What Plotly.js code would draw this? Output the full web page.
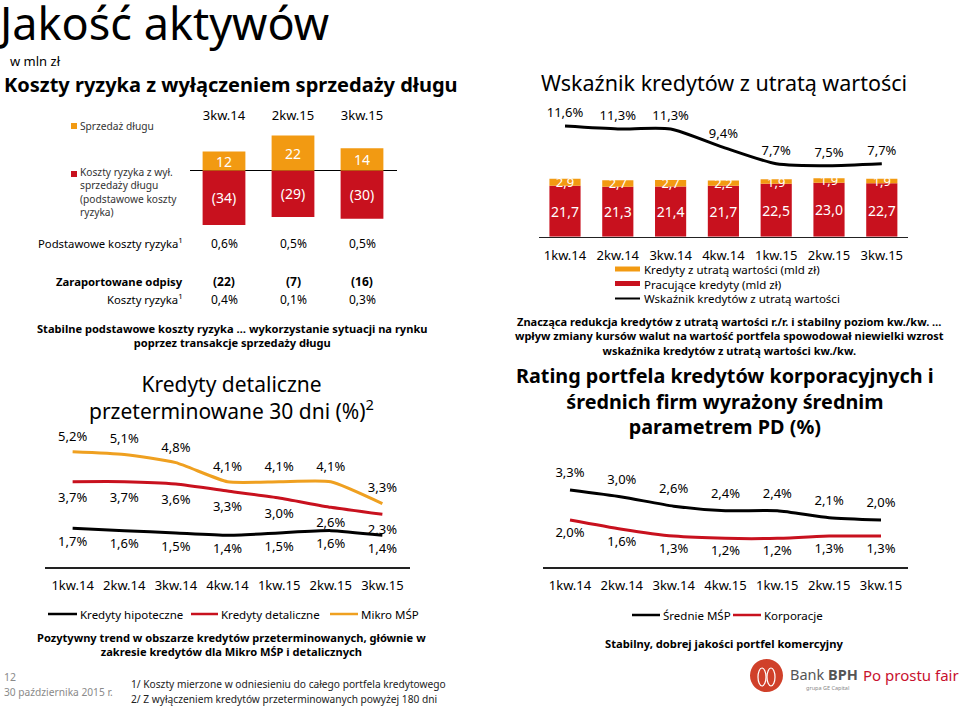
<!DOCTYPE html>
<html><head><meta charset="utf-8">
<script src="https://cdn.plot.ly/plotly-3.0.1.min.js"></script>
<style>html,body{margin:0;padding:0;background:#fff}#chart{width:960px;height:707px}</style>
</head><body><div id="chart"></div>
<script>
// ---------- data ----------
const costQuarters = ['3kw.14', '2kw.15', '3kw.15'];
const debtSale = [12, 22, 14];
const coreRiskCost = [-34, -29, -30];
const coreRiskCostRatio = ['0,6%', '0,5%', '0,5%'];
const reportedWriteOffs = ['(22)', '(7)', '(16)'];
const riskCostRatio = ['0,4%', '0,1%', '0,3%'];

const quarters = ['1kw.14', '2kw.14', '3kw.14', '4kw.14', '1kw.15', '2kw.15', '3kw.15'];
const impairedLoans = [2.9, 2.7, 2.7, 2.2, 1.9, 1.9, 1.9];
const performingLoans = [21.7, 21.3, 21.4, 21.7, 22.5, 23.0, 22.7];
const impairedRatio = [11.6, 11.3, 11.3, 9.4, 7.7, 7.5, 7.7];

const mortgageOverdue = [1.7, 1.6, 1.5, 1.4, 1.5, 1.6, 1.4];
const retailOverdue = [3.7, 3.7, 3.6, 3.3, 3.0, 2.6, 2.3];
const microSmeOverdue = [5.2, 5.1, 4.8, 4.1, 4.1, 4.1, 3.3];

const pdQuarters = ['1kw.14', '2kw.14', '3kw.14', '4kw.15', '1kw.15', '2kw.15', '3kw.15'];
const mediumSmePD = [3.3, 3.0, 2.6, 2.4, 2.4, 2.1, 2.0];
const corporatePD = [2.0, 1.6, 1.3, 1.2, 1.2, 1.3, 1.3];

// ---------- helpers ----------
const W = 960, H = 707;
const px = x => x / W;
const py = y => 1 - y / H;
const num = v => v.toFixed(1).replace('.', ',');
const pct = v => num(v) + '%';
const ORANGE = '#F29A12', RED = '#C8111E', BLACK = '#000000';
const FONT = 'Noto Sans, sans-serif';
const TRANSP = 'rgba(0,0,0,0)';

// ---------- traces ----------
const barText = {textposition: 'inside', insidetextanchor: 'middle', constraintext: 'none', textangle: 0, hoverinfo: 'skip'};
const lineText = {mode: 'lines+markers+text', cliponaxis: false, hoverinfo: 'skip'};
const traces = [
  Object.assign({type: 'bar', x: costQuarters, y: debtSale, xaxis: 'x', yaxis: 'y', width: 0.62,
   marker: {color: ORANGE}, text: debtSale.map(String), textfont: {color: '#fff', size: 14}}, barText),
  Object.assign({type: 'bar', x: costQuarters, y: coreRiskCost, xaxis: 'x', yaxis: 'y', width: 0.62,
   marker: {color: RED}, text: coreRiskCost.map(v => '(' + (-v) + ')'), textfont: {color: '#fff', size: 14}}, barText),

  Object.assign({type: 'bar', x: quarters, y: performingLoans, xaxis: 'x2', yaxis: 'y2', width: 0.59,
   marker: {color: RED}, text: performingLoans.map(num), textfont: {color: '#fff', size: 14}}, barText),
  Object.assign({type: 'bar', x: quarters, y: impairedLoans, xaxis: 'x2', yaxis: 'y2', width: 0.59,
   marker: {color: ORANGE}, text: impairedLoans.map(num), textfont: {color: '#fff', size: 13}}, barText),
  Object.assign({type: 'scatter', x: quarters, y: impairedRatio, xaxis: 'x2', yaxis: 'y3',
   line: {color: BLACK, width: 3, shape: 'spline', smoothing: 0.6}, marker: {size: 8, color: TRANSP},
   text: impairedRatio.map(pct), textposition: 'top center', textfont: {size: 13, color: '#000'}}, lineText),

  Object.assign({type: 'scatter', x: quarters, y: mortgageOverdue, xaxis: 'x3', yaxis: 'y4',
   line: {color: BLACK, width: 3, shape: 'spline', smoothing: 0.5}, marker: {size: 11, color: TRANSP},
   text: mortgageOverdue.map(pct), textposition: 'bottom center', textfont: {size: 13, color: '#000'}}, lineText),
  Object.assign({type: 'scatter', x: quarters, y: retailOverdue, xaxis: 'x3', yaxis: 'y4',
   line: {color: RED, width: 3, shape: 'spline', smoothing: 0.5}, marker: {size: 15, color: TRANSP},
   text: retailOverdue.map(pct), textposition: 'bottom center', textfont: {size: 13, color: '#000'}}, lineText),
  Object.assign({type: 'scatter', x: quarters, y: microSmeOverdue, xaxis: 'x3', yaxis: 'y5',
   line: {color: '#EFA020', width: 3, shape: 'spline', smoothing: 0.5}, marker: {size: 11, color: TRANSP},
   text: microSmeOverdue.map(pct), textposition: 'top center', textfont: {size: 13, color: '#000'}}, lineText),

  Object.assign({type: 'scatter', x: pdQuarters, y: mediumSmePD, xaxis: 'x4', yaxis: 'y6',
   line: {color: BLACK, width: 3, shape: 'spline', smoothing: 0.6}, marker: {size: 14, color: TRANSP},
   text: mediumSmePD.map(pct), textposition: 'top center', textfont: {size: 13, color: '#000'}}, lineText),
  Object.assign({type: 'scatter', x: pdQuarters, y: corporatePD, xaxis: 'x4', yaxis: 'y6',
   line: {color: RED, width: 3, shape: 'spline', smoothing: 0.6}, marker: {size: 10, color: TRANSP},
   text: corporatePD.map(pct), textposition: 'bottom center', textfont: {size: 13, color: '#000'}}, lineText)
];

// ---------- annotations ----------
const A = [];
function fnt(size, color) { return {family: FONT, size: size, color: color || '#000'}; }
function ann(text, x, y, o) {
  A.push(Object.assign({text: text, x: px(x), y: py(y), xref: 'paper', yref: 'paper',
    showarrow: false, xanchor: 'left', yanchor: 'middle', font: fnt(12)}, o || {}));
}

ann('w mln zł', 8, 61, {font: fnt(13)});
ann('<b>Koszty ryzyka z wyłączeniem sprzedaży długu</b>', 2, 84, {font: fnt(20)});
ann('Wskaźnik kredytów z utratą wartości', 724, 83, {xanchor: 'center', font: fnt(21.5)});

// top-left legend
ann('Sprzedaż długu', 78, 126, {font: fnt(10.2, '#333')});
ann('Koszty ryzyka z wył.<br>sprzedaży długu<br>(podstawowe koszty<br>ryzyka)', 78, 192, {font: fnt(10.2, '#333'), align: 'left'});

// table under top-left chart
ann('Podstawowe koszty ryzyka<sup>1</sup>', 185, 243, {xanchor: 'right', font: fnt(11.3)});
ann('<b>Zaraportowane odpisy</b>', 185, 281, {xanchor: 'right', font: fnt(11.3)});
ann('Koszty ryzyka<sup>1</sup>', 185, 299, {xanchor: 'right', font: fnt(11.3)});
costQuarters.forEach((q, i) => {
  const cell = (t, y, b) => A.push({text: b ? '<b>' + t + '</b>' : t, x: q, xref: 'x', y: py(y), yref: 'paper',
    showarrow: false, xanchor: 'center', yanchor: 'middle', font: fnt(12)});
  cell(coreRiskCostRatio[i], 243, false);
  cell(reportedWriteOffs[i], 281, true);
  cell(riskCostRatio[i], 299, false);
});
ann('<b>Stabilne podstawowe koszty ryzyka … wykorzystanie sytuacji na rynku<br>poprzez transakcje sprzedaży długu</b>', 232, 335.5, {xanchor: 'center', align: 'center', font: fnt(11.1)});

// bottom-left chart title
ann('Kredyty detaliczne<br>przeterminowane 30 dni (%)<sup>2</sup>', 231, 397.5, {xanchor: 'center', align: 'center', font: fnt(21)});

// bottom-left legend
ann('Kredyty hipoteczne', 78, 614, {font: fnt(11.5)});
ann('Kredyty detaliczne', 219, 614, {font: fnt(11.5)});
ann('Mikro MŚP', 359, 614, {font: fnt(11.5)});
ann('<b>Pozytywny trend w obszarze kredytów przeterminowanych, głównie w<br>zakresie kredytów dla Mikro MŚP i detalicznych</b>', 231, 644.5, {xanchor: 'center', align: 'center', font: fnt(11.1)});

// footer
ann('12', 2, 677, {font: fnt(10.5, '#8a8a8a')});
ann('30 października 2015 r.', 2, 692, {font: fnt(10.2, '#8a8a8a')});
ann('1/ Koszty mierzone w odniesieniu do całego portfela kredytowego', 129, 684, {font: fnt(10.2, '#222')});
ann('2/ Z wyłączeniem kredytów przeterminowanych powyżej 180 dni', 129, 699, {font: fnt(10.2, '#222')});

// top-right legend
ann('Kredyty z utratą wartości (mld zł)', 642, 269.5, {font: fnt(11.5)});
ann('Pracujące kredyty (mld zł)', 642, 284, {font: fnt(11.5)});
ann('Wskaźnik kredytów z utratą wartości', 642, 298.5, {font: fnt(11.5)});

ann('<b>Znacząca redukcja kredytów z utratą wartości r./r. i stabilny poziom kw./kw. …<br>wpływ zmiany kursów walut na wartość portfela spowodował niewielki wzrost<br>wskaźnika kredytów z utratą wartości kw./kw.</b>', 729, 336.5, {xanchor: 'center', align: 'center', font: fnt(11)});
ann('<b>Rating portfela kredytów korporacyjnych i<br>średnich firm wyrażony średnim<br>parametrem PD (%)</b>', 725, 400.5, {xanchor: 'center', align: 'center', font: fnt(19.8)});

// bottom-right legend
ann('Średnie MŚP', 661, 615, {font: fnt(11.5)});
ann('Korporacje', 762, 615, {font: fnt(11.5)});
ann('<b>Stabilny, dobrej jakości portfel komercyjny</b>', 724, 643, {xanchor: 'center', font: fnt(11.2)});

// logo text
ann('Bank <b>BPH</b>', 788, 674, {font: fnt(14.5, '#555')});
ann('grupa GE Capital', 851, 688, {xanchor: 'right', font: fnt(5.5, '#888')});
ann('Po prostu fair', 861, 675, {font: fnt(15, '#C8102E')});

// ---------- shapes (legend swatches, logo) ----------
const S = [];
function rect(x0, y0, x1, y1, color) {
  S.push({type: 'rect', xref: 'paper', yref: 'paper', x0: px(x0), x1: px(x1), y0: py(y1), y1: py(y0), fillcolor: color, line: {width: 0}});
}
function hline(x0, x1, y, color, w) {
  S.push({type: 'line', xref: 'paper', yref: 'paper', x0: px(x0), x1: px(x1), y0: py(y), y1: py(y), line: {color: color, width: w}});
}
rect(71, 123, 77, 129, ORANGE);
rect(71, 171, 77, 177, RED);
rect(615, 266.5, 640, 271.5, ORANGE);
rect(615, 281, 640, 286, RED);
hline(615, 640, 298.5, BLACK, 2);
hline(48, 77, 614, BLACK, 2.5);
hline(191, 218, 614, RED, 2.5);
hline(330, 358, 614, '#EFA020', 2.5);
hline(632, 660, 615, BLACK, 2.5);
hline(733, 761, 615, RED, 2.5);
S.push({type: 'circle', xref: 'paper', yref: 'paper', x0: px(750), x1: px(783), y0: py(692), y1: py(659), fillcolor: '#D0402A', line: {width: 0}});
S.push({type: 'circle', xref: 'paper', yref: 'paper', x0: px(758), x1: px(766), y0: py(686), y1: py(668), fillcolor: 'rgba(0,0,0,0)', line: {color: '#fff', width: 1.2}});
S.push({type: 'circle', xref: 'paper', yref: 'paper', x0: px(767), x1: px(775), y0: py(686), y1: py(668), fillcolor: 'rgba(0,0,0,0)', line: {color: '#fff', width: 1.2}});

// ---------- layout ----------
const noGrid = {showgrid: false, zeroline: false, fixedrange: true};
const layout = {
  width: W, height: H, margin: {l: 0, r: 0, t: 0, b: 0},
  paper_bgcolor: '#fff', plot_bgcolor: 'rgba(0,0,0,0)',
  font: {family: FONT, color: '#000'},
  title: {text: 'Jakość aktywów', font: {family: FONT, size: 45, color: '#000'},
    x: 0, xref: 'paper', xanchor: 'left', y: 1, yref: 'container', yanchor: 'top', pad: {t: 8, l: 0}},
  showlegend: false, barmode: 'relative',
  xaxis: Object.assign({}, noGrid, {domain: [px(189.5), px(396.5)], anchor: 'y', side: 'top', type: 'category',
    showline: false, ticks: '', tickfont: {size: 13}, ticklabelstandoff: 4}),
  yaxis: Object.assign({}, noGrid, {domain: [py(228), py(128)], anchor: 'x', range: [-35.8, 26.7],
    showticklabels: false, ticks: '', zeroline: true, zerolinecolor: '#000', zerolinewidth: 1.5}),

  xaxis2: Object.assign({}, noGrid, {domain: [px(538.6), px(908.2)], anchor: 'y2', type: 'category',
    showline: true, linecolor: '#222', linewidth: 1.5, ticks: '', tickfont: {size: 13}, ticklabelstandoff: 6}),
  yaxis2: Object.assign({}, noGrid, {domain: [py(236.7), py(110)], anchor: 'x2', range: [0, 53.9], visible: false}),
  yaxis3: Object.assign({}, noGrid, {overlaying: 'y2', anchor: 'x2', range: [0.19, 13.25], visible: false}),

  xaxis3: Object.assign({}, noGrid, {domain: [px(45), px(410)], anchor: 'y4', type: 'category',
    showline: true, linecolor: '#222', linewidth: 1.5, ticks: '', tickfont: {size: 13}, ticklabelstandoff: 6}),
  yaxis4: Object.assign({}, noGrid, {domain: [py(567.3), py(440)], anchor: 'x3', range: [0.026, 5.49], visible: false}),
  yaxis5: Object.assign({}, noGrid, {overlaying: 'y4', anchor: 'x3', range: [0.966, 5.63], visible: false}),

  xaxis4: Object.assign({}, noGrid, {domain: [px(543), px(908)], anchor: 'y6', type: 'category',
    showline: true, linecolor: '#222', linewidth: 1.5, ticks: '', tickfont: {size: 13}, ticklabelstandoff: 6}),
  yaxis6: Object.assign({}, noGrid, {domain: [py(567.3), py(450)], anchor: 'x4', range: [-0.057, 5.04], visible: false}),

  annotations: A, shapes: S
};

Plotly.newPlot('chart', traces, layout, {staticPlot: true, displayModeBar: false});
</script>
</body></html>
